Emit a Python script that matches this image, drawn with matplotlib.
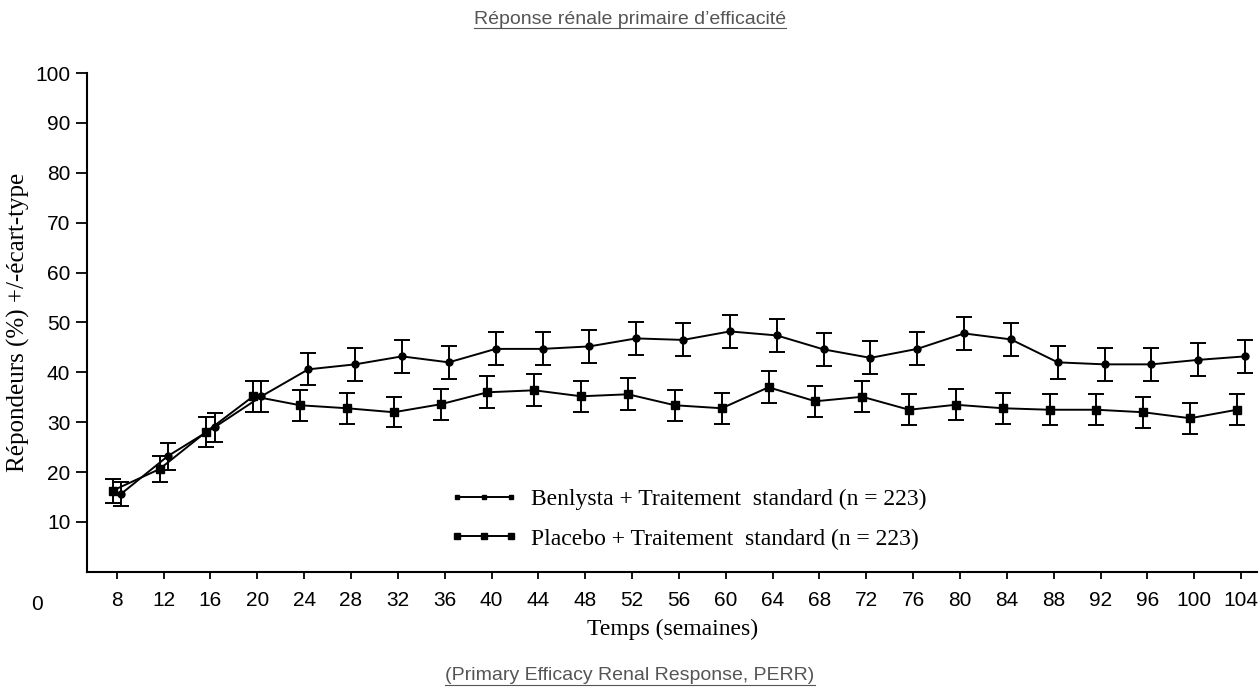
import numpy as np
import matplotlib
matplotlib.use('Agg')
import matplotlib.pyplot as plt
from matplotlib.lines import Line2D

# semaines
weeks = [8, 12, 16, 20, 24, 28, 32, 36, 40, 44, 48, 52, 56, 60, 64, 68,
         72, 76, 80, 84, 88, 92, 96, 100, 104]

# Benlysta + traitement standard
benlysta = [15.6, 23.2, 29.0, 35.2, 40.6, 41.6, 43.2, 42.0, 44.7, 44.7, 45.2, 46.8,
            46.5, 48.2, 47.4, 44.6, 42.9, 44.7, 47.8, 46.6, 42.0, 41.6, 41.6, 42.5, 43.2]
benlysta_se = [2.4, 2.7, 2.9, 3.1, 3.2, 3.3, 3.3, 3.3, 3.3, 3.3, 3.3, 3.3, 3.3,
               3.3, 3.3, 3.3, 3.3, 3.3, 3.3, 3.3, 3.3, 3.3, 3.3, 3.3, 3.3]

# Placebo + traitement standard
placebo = [16.3, 20.6, 28.1, 35.2, 33.4, 32.8, 32.0, 33.6, 36.0, 36.4, 35.2, 35.6,
           33.4, 32.8, 37.0, 34.2, 35.1, 32.5, 33.5, 32.8, 32.5, 32.5, 32.0, 30.8, 32.5]
placebo_se = [2.4, 2.6, 3.0, 3.1, 3.1, 3.1, 3.0, 3.1, 3.2, 3.2, 3.1, 3.2, 3.1,
              3.1, 3.2, 3.1, 3.1, 3.1, 3.1, 3.1, 3.1, 3.1, 3.1, 3.1, 3.1]

labels = ['Benlysta + Traitement  standard (n = 223)',
          'Placebo + Traitement  standard (n = 223)']

serif = 'Liberation Serif'
sans = 'Liberation Sans'

fig = plt.figure(figsize=(12.6, 6.89), dpi=100)
ax = fig.add_axes([0.069, 0.170, 0.929, 0.724])

w = np.array(weeks, dtype=float)
ax.errorbar(w + 0.35, benlysta, yerr=benlysta_se, color='black', lw=1.4,
            marker='o', ms=5, capsize=6, capthick=1.4, elinewidth=1.4,
            label=labels[0])
ax.errorbar(w - 0.35, placebo, yerr=placebo_se, color='black', lw=1.4,
            marker='s', ms=6, capsize=6, capthick=1.4, elinewidth=1.4,
            label=labels[1])

ax.set_xlim(5.45, 105.4)
ax.set_ylim(0, 100)
ax.set_xticks(weeks)
ax.set_yticks(range(10, 101, 10))
ax.spines['top'].set_visible(False)
ax.spines['right'].set_visible(False)
ax.spines['left'].set_linewidth(1.5)
ax.spines['bottom'].set_linewidth(1.5)
ax.tick_params(axis='x', length=5, width=1.3, pad=9, labelsize=15)
ax.tick_params(axis='y', length=8, width=1.3, pad=4, labelsize=15)
for t in ax.get_xticklabels() + ax.get_yticklabels():
    t.set_fontfamily(sans)
ax.text(-0.043, -0.047, '0', transform=ax.transAxes, ha='center', va='top',
        fontsize=15, family=sans)

ax.set_xlabel('Temps (semaines)', fontsize=17, family=serif, labelpad=6)
ax.set_ylabel('Répondeurs (%) +/-écart-type', fontsize=18, family=serif, labelpad=4)

leg_handles = [Line2D([0], [0], color='black', lw=1.4, marker='s', ms=3.5),
               Line2D([0], [0], color='black', lw=1.4, marker='s', ms=5)]
ax.legend(leg_handles, labels, loc='lower left', bbox_to_anchor=(0.292, 0.002),
          frameon=False, numpoints=3, handlelength=2.9, handletextpad=0.55,
          labelspacing=0.75, prop={'family': serif, 'size': 17})

grey = '#555555'
title = fig.text(0.5, 0.972, 'Réponse rénale primaire d\u2019efficacité',
                 ha='center', va='center', fontsize=14, family=sans, color=grey)
foot = fig.text(0.5, 0.019, '(Primary Efficacy Renal Response, PERR)',
                ha='center', va='center', fontsize=14, family=sans, color=grey)

# soulignement des textes
fig.canvas.draw()
r = fig.canvas.get_renderer()
for t in (title, foot):
    bb = t.get_window_extent(renderer=r).transformed(fig.transFigure.inverted())
    y = bb.y0 - 0.001
    fig.add_artist(Line2D([bb.x0, bb.x1], [y, y], color=grey, lw=0.8,
                          transform=fig.transFigure))

fig.savefig('out.png', dpi=100)
